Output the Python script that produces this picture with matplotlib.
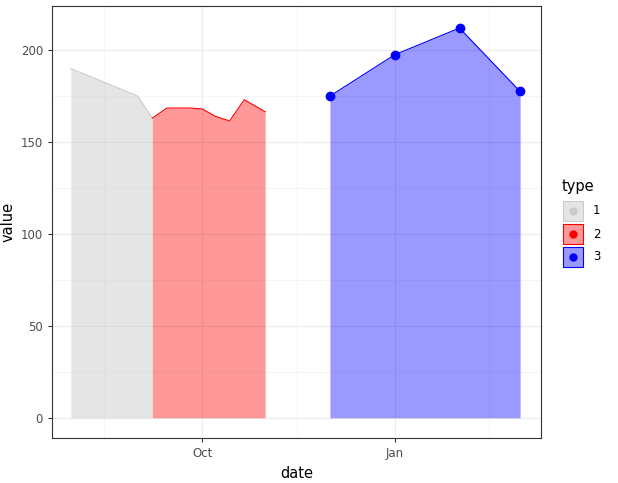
import matplotlib
matplotlib.use("Agg")
import matplotlib.pyplot as plt
import matplotlib.dates as mdates
import numpy as np
from matplotlib.patches import Rectangle
from matplotlib.lines import Line2D
from datetime import date

dates1 = [date(2019, 7, 30), date(2019, 8, 31), date(2019, 9, 7)]
vals1 = [190, 175, 163]
dates2 = [date(2019, 9, 7), date(2019, 9, 14), date(2019, 9, 25), date(2019, 10, 1),
          date(2019, 10, 7), date(2019, 10, 14), date(2019, 10, 21), date(2019, 10, 31)]
vals2 = [163, 168.5, 168.5, 168, 164, 161.5, 173, 166.5]
dates3 = [date(2019, 12, 1), date(2020, 1, 1), date(2020, 2, 1), date(2020, 3, 1)]
vals3 = [175, 197.5, 212, 177.5]

fig = plt.figure(figsize=(6.18, 4.83), dpi=100)
ax = fig.add_axes([52/618, 45/483, 489/618, 432/483])

ax.fill_between(dates1, vals1, color="#cccccc", alpha=0.5, lw=0)
ax.plot(dates1, vals1, color="#cccccc", lw=0.8)
ax.fill_between(dates2, vals2, color="red", alpha=0.4, lw=0)
ax.plot(dates2, vals2, color="red", lw=0.8)
ax.fill_between(dates3, vals3, color="blue", alpha=0.4, lw=0)
ax.plot(dates3, vals3, color="blue", lw=0.8, marker="o", ms=6)

ax.set_xlim(date(2019, 7, 21), date(2020, 3, 11))
ax.set_ylim(-11, 224)
ax.xaxis.set_major_locator(mdates.MonthLocator(bymonth=[10, 1]))
ax.xaxis.set_major_formatter(mdates.DateFormatter("%b"))
ax.xaxis.set_minor_locator(mdates.MonthLocator(bymonth=[8, 11, 2], bymonthday=15))
ax.set_yticks([0, 50, 100, 150, 200])
ax.set_yticks([25, 75, 125, 175], minor=True)
ax.grid(which="major", color="#ebebeb", lw=0.8)
ax.grid(which="minor", color="#f2f2f2", lw=0.5)
ax.set_axisbelow(True)
for s in ax.spines.values():
    s.set_color("#333333")
    s.set_linewidth(0.8)
ax.tick_params(which="major", colors="#333333", labelcolor="#4d4d4d", labelsize=8.5, length=3)
ax.tick_params(which="minor", length=0)
ax.set_xlabel("date", fontsize=10.5)
ax.set_ylabel("value", fontsize=10.5)

fig.text(562/618, 1 - 187/483, "type", fontsize=10.5, va="center")
labels = ["1", "2", "3"]
fills = [("#cccccc", 0.5, "#cccccc"), ("red", 0.4, "red"), ("blue", 0.4, "blue")]
for i, (lab, (c, a, ec)) in enumerate(zip(labels, fills)):
    yc = 211 + i * 23
    fig.patches.append(Rectangle((563/618, 1 - (yc + 10)/483), 20/618, 20/483,
                                 transform=fig.transFigure, facecolor=matplotlib.colors.to_rgba(c, a),
                                 edgecolor=ec, lw=0.8))
    fig.lines.append(Line2D([573/618], [1 - yc/483], transform=fig.transFigure,
                            marker="o", ms=5, color=ec, ls=""))
    fig.text(593/618, 1 - yc/483, lab, fontsize=8.5, va="center")

fig.savefig("out.png", dpi=100)
